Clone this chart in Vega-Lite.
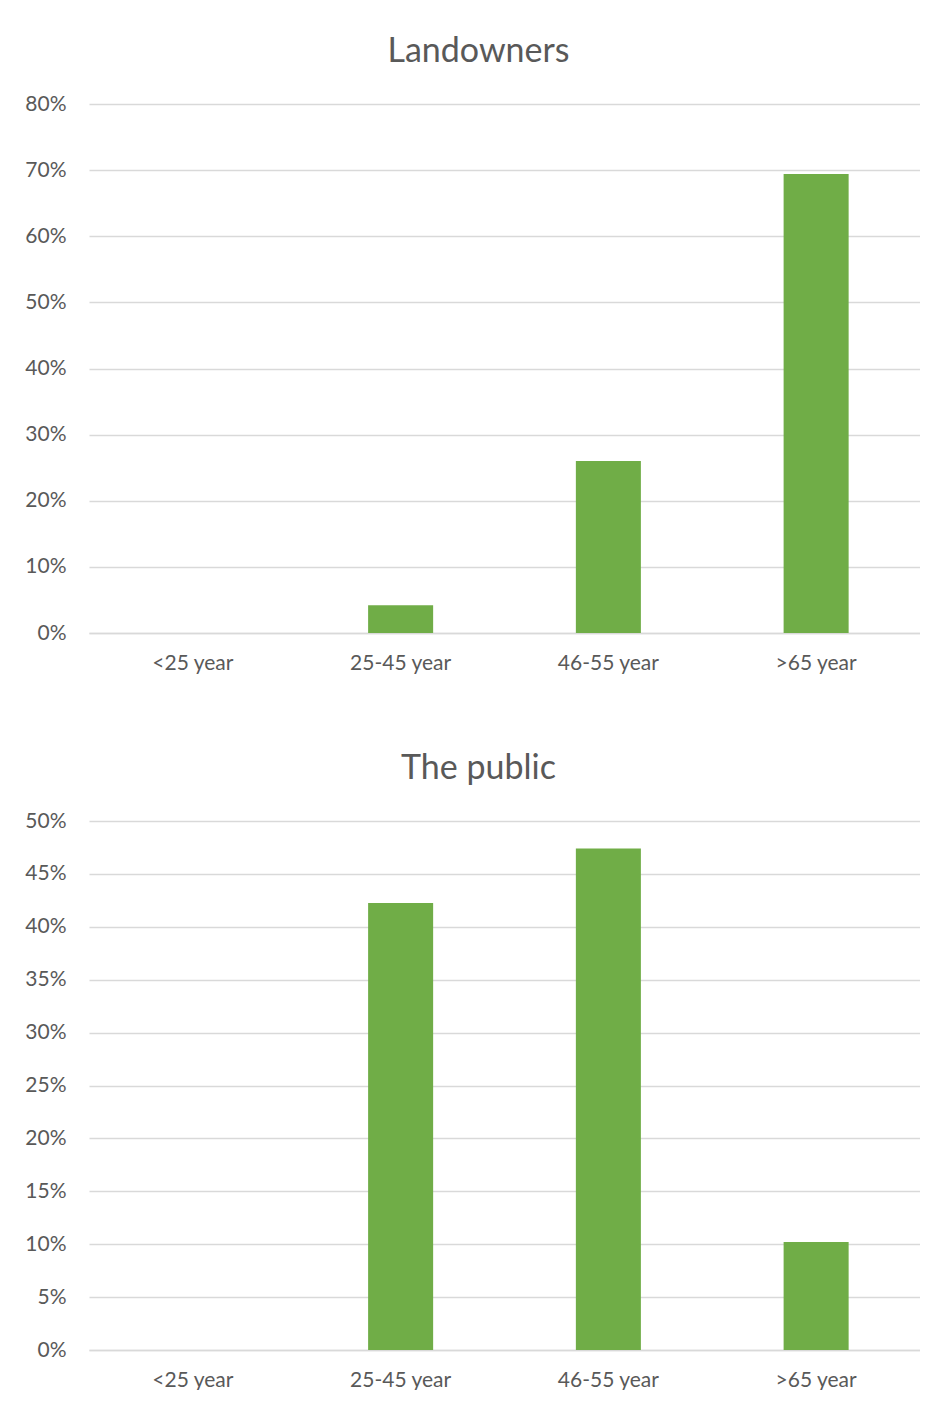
{
  "$schema": "https://vega.github.io/schema/vega-lite/v6.json",
  "padding": {"top": 35, "left": 0, "right": 0, "bottom": 0},
  "background": "white",
  "spacing": 79,
  "config": {
    "view": {"stroke": null},
    "font": "Lato",
    "title": {"fontSize": 34, "fontWeight": "normal", "color": "#595959", "font": "Lato", "offset": 24, "dx": -26},
    "axis": {"labelFont": "Lato", "labelFontSize": 21, "labelColor": "#595959", "ticks": false, "title": null, "gridColor": "#d9d9d9", "gridWidth": 1.5, "domainColor": "#d9d9d9", "domainWidth": 1.5}
  },
  "datasets": {
    "land": [
      {"age": "<25 year", "share": 0.0},
      {"age": "25-45 year", "share": 0.042},
      {"age": "46-55 year", "share": 0.26},
      {"age": ">65 year", "share": 0.694}
    ],
    "public": [
      {"age": "<25 year", "share": 0.0},
      {"age": "25-45 year", "share": 0.4225},
      {"age": "46-55 year", "share": 0.474},
      {"age": ">65 year", "share": 0.102}
    ]
  },
  "vconcat": [
    {
      "title": "Landowners",
      "width": 831,
      "height": 529,
      "data": {"name": "land"},
      "mark": {"type": "bar", "color": "#70AD47"},
      "encoding": {
        "x": {"field": "age", "type": "nominal", "sort": null,
              "scale": {"paddingInner": 0.687, "paddingOuter": 0.3435},
              "axis": {"labelAngle": 0, "labelPadding": 19, "grid": false}},
        "y": {"field": "share", "type": "quantitative",
              "scale": {"domain": [0, 0.8], "nice": false},
              "axis": {"values": [0, 0.1, 0.2, 0.3, 0.4, 0.5, 0.6, 0.7, 0.8], "format": ".0%", "domain": false, "labelPadding": 23, "minExtent": 89, "maxExtent": 89}}
      }
    },
    {
      "title": "The public",
      "width": 831,
      "height": 529,
      "data": {"name": "public"},
      "mark": {"type": "bar", "color": "#70AD47"},
      "encoding": {
        "x": {"field": "age", "type": "nominal", "sort": null,
              "scale": {"paddingInner": 0.687, "paddingOuter": 0.3435},
              "axis": {"labelAngle": 0, "labelPadding": 19, "grid": false}},
        "y": {"field": "share", "type": "quantitative",
              "scale": {"domain": [0, 0.5], "nice": false},
              "axis": {"values": [0, 0.05, 0.1, 0.15, 0.2, 0.25, 0.3, 0.35, 0.4, 0.45, 0.5], "format": ".0%", "domain": false, "labelPadding": 23, "minExtent": 89, "maxExtent": 89}}
      }
    }
  ]
}
